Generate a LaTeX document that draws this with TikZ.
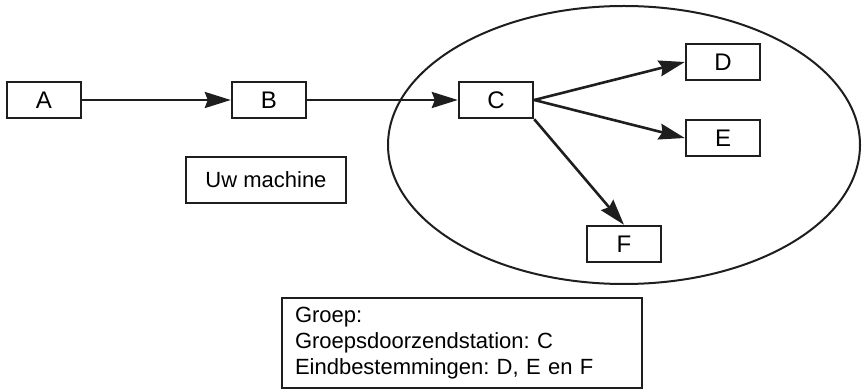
\documentclass[tikz,border=0pt]{standalone}
\usepackage{fontspec}
\setmainfont{Liberation Sans}
\usetikzlibrary{arrows.meta,shapes.geometric}
\definecolor{ink}{RGB}{30,30,30}
\tikzset{
  station/.style={draw=ink,line width=2.4pt,inner sep=0pt,minimum width=74pt,
    minimum height=36pt,font=\fontsize{24}{28}\selectfont},
  label/.style={draw=ink,line width=2.4pt,inner sep=0pt,font=\fontsize{22}{26}\selectfont},
  arr/.style={-{Stealth[length=26pt,width=16pt,inset=3pt]},line width=2.6pt,ink},
}
\begin{document}
\frenchspacing
\begin{tikzpicture}[x=1pt,y=-1pt]
  \useasboundingbox (0,0) rectangle (862,390);
  % multicast group
  \draw[ink,line width=2pt] (624,145) ellipse [x radius=236,y radius=139];
  \node[station] (A) at (44,100) {A};
  \node[station] (B) at (269,100) {B};
  \node[station] (C) at (496,100) {C};
  \node[station] (D) at (723,62) {D};
  \node[station] (E) at (723,138) {E};
  \node[station] (F) at (624,244) {F};
  \node[label,minimum width=160pt,minimum height=46pt] (M) at (266,180) {Uw machine};
  \node[label,minimum width=360pt,minimum height=90pt,text width=334pt,align=left] (G)
    at (462,343) {Groep:\\Groepsdoorzendstation: C\\Eindbestemmingen: D, E en F};
  \draw[arr] (A) -- (B);
  \draw[arr] (B) -- (C);
  \draw[arr] (C.east) -- (D.west);
  \draw[arr] (C.east) -- (E.west);
  \draw[arr] (C.south east) -- (F.north);
\end{tikzpicture}
\end{document}
